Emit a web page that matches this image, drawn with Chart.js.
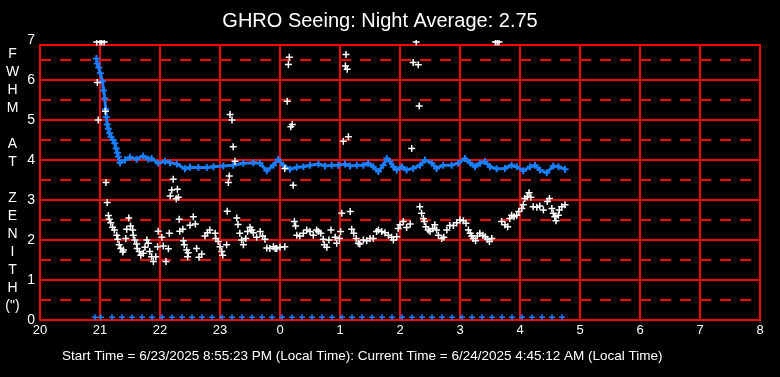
<!DOCTYPE html>
<html>
<head>
<meta charset="utf-8">
<script src="https://cdn.jsdelivr.net/npm/chart.js@4.4.1/dist/chart.umd.min.js"></script>
<style>
  html, body { margin: 0; padding: 0; background: #000; }
  canvas { display: block; }
</style>
</head>
<body>
<canvas id="seeingChart" width="780" height="377"></canvas>
<script>
// hours after midnight are written as 24..32 so the night runs left to right
const blueTimes = [20.94, 20.955, 20.98, 21.005, 21.04, 21.06, 21.08, 21.095, 21.105, 21.12, 21.14, 21.16,
  21.18, 21.22, 21.245, 21.27, 21.29, 21.305, 21.333, 21.417, 21.5, 21.61, 21.72, 21.805, 21.86, 21.97,
  22.083, 22.167, 22.28, 22.417, 22.5, 22.64, 22.78, 22.89, 23.055, 23.22, 23.39, 23.555, 23.667, 23.78,
  23.89, 23.97, 24.055, 24.167, 24.28, 24.39, 24.5, 24.64, 24.75, 24.86, 24.97, 25.083, 25.167, 25.28,
  25.39, 25.47, 25.555, 25.64, 25.72, 25.78, 25.833, 25.89, 25.945, 26.03, 26.11, 26.22, 26.333, 26.417,
  26.53, 26.61, 26.72, 26.86, 26.97, 27.083, 27.167, 27.25, 27.333, 27.417, 27.5, 27.61, 27.75, 27.86,
  27.945, 28.055, 28.167, 28.25, 28.333, 28.445, 28.555, 28.64, 28.75];
const blueFwhm = [6.54, 6.41, 6.31, 6.17, 5.97, 5.74, 5.54, 5.27, 5.07, 4.89, 4.78, 4.67,
  4.58, 4.50, 4.42, 4.29, 4.18, 4.08, 3.93, 4.00, 4.07, 4.02, 4.10, 4.02, 4.04, 3.92,
  3.97, 3.93, 3.90, 3.78, 3.82, 3.81, 3.81, 3.83, 3.85, 3.87, 3.92, 3.93, 3.92, 3.73,
  3.87, 4.01, 3.87, 3.77, 3.82, 3.83, 3.87, 3.90, 3.85, 3.87, 3.87, 3.90, 3.85, 3.87,
  3.87, 3.92, 3.83, 3.71, 3.87, 4.04, 3.96, 3.83, 3.75, 3.83, 3.75, 3.79, 3.87, 4.00,
  3.92, 3.79, 3.87, 3.87, 3.92, 4.04, 3.93, 3.83, 3.92, 3.96, 3.83, 3.78, 3.79, 3.87,
  3.83, 3.73, 3.83, 3.87, 3.75, 3.68, 3.85, 3.83, 3.77];

const whiteTimes = [20.945, 21.0, 21.03, 21.07, 26.27, 27.59, 27.62, 27.65,
  20.955, 20.97, 21.09, 21.1, 21.12, 21.14, 21.155, 21.18, 21.21, 21.24, 21.28, 21.295, 21.32, 21.345,
  21.38, 21.39, 21.43, 21.445, 21.48, 21.51, 21.545, 21.555, 21.58, 21.61, 21.62, 21.655, 21.68, 21.72,
  21.75, 21.78, 21.805, 21.83, 21.86, 21.89, 21.93, 21.96, 21.97, 22.03, 22.055, 22.1, 22.14, 22.155,
  22.17, 22.195, 22.22, 22.27, 22.29, 22.305, 22.32, 22.33, 22.38, 22.39, 22.405, 22.445, 22.46, 22.47,
  22.5, 22.555, 22.59, 22.61, 22.65, 22.695, 22.75, 22.79, 22.83, 22.92, 22.93, 22.97, 23.0, 23.03,
  23.045, 23.11, 23.12, 23.14, 23.155, 23.167, 23.2, 23.22, 23.25, 23.28, 23.3, 23.33, 23.36, 23.39,
  23.43, 23.46, 23.5, 23.53, 23.555, 23.61, 23.67, 23.71, 23.75, 23.78, 23.83, 23.89, 23.92, 23.945,
  24.0, 24.08, 24.08, 24.12, 24.14, 24.155, 24.18, 24.205, 24.22, 24.24, 24.26, 24.28, 24.33, 24.39,
  24.445, 24.5, 24.555, 24.61, 24.64, 24.68, 24.72, 24.74, 24.78, 24.815, 24.85, 24.92, 24.945, 24.99,
  25.01, 25.03, 25.055, 25.09, 25.1, 25.12, 25.14, 25.17, 25.195, 25.23, 25.27, 25.305, 25.33, 25.39,
  25.445, 25.5, 25.555, 25.61, 25.64, 25.695, 25.75, 25.805, 25.86, 25.89, 25.945, 25.97, 26.0, 26.055,
  26.11, 26.17, 26.195, 26.22, 26.305, 26.32, 26.33, 26.36, 26.39, 26.405, 26.43, 26.47, 26.5, 26.545,
  26.58, 26.61, 26.64, 26.695, 26.73, 26.78, 26.83, 26.89, 26.945, 27.0, 27.055, 27.1, 27.14, 27.17,
  27.195, 27.22, 27.26, 27.29, 27.33, 27.38, 27.42, 27.455, 27.49, 27.53, 27.695, 27.75, 27.795, 27.83,
  27.86, 27.9, 27.945, 27.98, 28.03, 28.055, 28.08, 28.12, 28.15, 28.18, 28.22, 28.28, 28.33, 28.39,
  28.455, 28.49, 28.53, 28.555, 28.58, 28.6, 28.64, 28.655, 28.695, 28.75];
const whiteFwhm = [6.95, 6.95, 6.95, 6.95, 6.95, 6.95, 6.95, 6.95,
  5.94, 5.0, 5.22, 3.44, 2.94, 2.61, 2.52, 2.43, 2.32, 2.25, 2.12, 2.02, 1.88, 1.79,
  1.70, 1.75, 2.04, 2.27, 2.55, 2.35, 2.25, 2.12, 2.0, 1.9, 1.79, 1.71, 1.62, 1.67,
  1.82, 2.0, 1.92, 1.71, 1.58, 1.46, 1.58, 1.83, 2.22, 2.07, 1.85, 1.46, 1.78, 2.17,
  3.1, 3.25, 3.52, 3.03, 3.27, 3.07, 2.52, 2.22, 2.27, 1.98, 1.88, 1.75, 1.58, 1.68,
  2.37, 2.58, 2.4, 1.79, 1.57, 1.65, 2.1, 2.18, 2.25, 2.17, 2.04, 1.96, 1.83, 1.71,
  1.62, 1.88, 2.72, 3.44, 3.6, 5.14, 5.0, 4.33, 3.97, 2.55, 2.39, 2.17, 2.0, 1.88,
  2.04, 2.21, 2.32, 2.25, 2.18, 2.07, 2.21, 2.1, 2.02, 1.8, 1.79, 1.83, 1.79, 1.79,
  1.82, 1.83, 3.79, 5.47, 6.39, 6.57, 4.83, 4.89, 3.37, 2.46, 2.35, 2.12, 2.1, 2.17,
  2.25, 2.21, 2.12, 2.25, 2.21, 2.17, 2.02, 1.88, 1.82, 2.0, 2.25, 2.07, 1.92, 2.04,
  2.21, 2.67, 4.47, 6.35, 6.64, 6.27, 4.58, 2.71, 2.27, 2.17, 2.04, 1.92, 1.9, 2.0,
  1.98, 2.04, 2.04, 2.21, 2.25, 2.21, 2.18, 2.12, 2.07, 2.0, 2.08, 2.29, 2.38, 2.46,
  2.31, 2.4, 4.29, 6.44, 6.38, 5.35, 2.83, 2.67, 2.54, 2.46, 2.33, 2.25, 2.21, 2.29,
  2.38, 2.25, 2.12, 2.04, 2.07, 2.25, 2.36, 2.36, 2.43, 2.5, 2.48, 2.42, 2.25, 2.17,
  2.1, 2.04, 1.98, 2.1, 2.17, 2.12, 2.08, 2.02, 1.96, 2.04, 2.46, 2.38, 2.33, 2.54,
  2.62, 2.58, 2.62, 2.71, 2.79, 2.88, 3.04, 3.08, 3.18, 3.07, 2.83, 2.82, 2.85, 2.75,
  2.96, 3.04, 2.79, 2.67, 2.58, 2.48, 2.62, 2.75, 2.83, 2.88];

// ten-minute markers sitting just above the zero line
const zeroTimes = ['20:55', '21:01', '21:12', '21:22', '21:32', '21:42', '21:52', '22:02', '22:12', '22:22',
  '22:32', '22:42', '22:52', '23:02', '23:12', '23:22', '23:32', '23:42', '23:52', '0:02', '0:12', '0:22',
  '0:32', '0:42', '0:52', '1:02', '1:12', '1:22', '1:32', '1:42', '1:52', '2:02', '2:12', '2:22', '2:32',
  '2:42', '2:52', '3:02', '3:12', '3:22', '3:32', '3:42', '3:52', '4:02', '4:12', '4:22', '4:32', '4:42'];
const zeroLevel = 0.07;

const yLetters = ['F', 'W', 'H', 'M', '', 'A', 'T', '', 'Z', 'E', 'N', 'I', 'T', 'H', '(")'];
const titleText = 'GHRO Seeing: Night Average: 2.75';
const footerText = 'Start Time = 6/23/2025 8:55:23 PM (Local Time): Current Time = 6/24/2025 4:45:12 AM (Local Time)';

const FONT = "'Liberation Sans', Arial, sans-serif";
const RED = '#ff0000';
const BLUE = '#1a7fff';

function toPoints(xs, ys) {
    return xs.map((x, i) => ({ x: x, y: ys[i] }));
}

function clockToHours(s) {
    const [h, m] = s.split(':').map(Number);
    return (h < 12 ? h + 24 : h) + m / 60;
}

const redGrid = {
    id: 'redGrid',
    beforeDatasetsDraw(chart) {
        const { ctx, scales: { x, y } } = chart;
        const px = v => Math.round(x.getPixelForValue(v));
        const py = v => Math.round(y.getPixelForValue(v));
        const left = px(20), right = px(32), top = py(6.875), bottom = py(0);
        ctx.save();
        ctx.strokeStyle = RED;
        ctx.lineWidth = 2;
        ctx.setLineDash([11, 9]);
        for (let v = 0.5; v < 7; v += 1) {
            ctx.beginPath();
            ctx.moveTo(left, py(v));
            ctx.lineTo(right, py(v));
            ctx.stroke();
        }
        ctx.setLineDash([]);
        for (let v = 1; v <= 6; v++) {
            ctx.beginPath();
            ctx.moveTo(left, py(v));
            ctx.lineTo(right, py(v));
            ctx.stroke();
        }
        for (let h = 21; h < 32; h++) {
            ctx.beginPath();
            ctx.moveTo(px(h), top);
            ctx.lineTo(px(h), bottom);
            ctx.stroke();
        }
        ctx.strokeRect(left, top, right - left, bottom - top);
        ctx.restore();
    }
};

const sideTexts = {
    id: 'sideTexts',
    afterDraw(chart) {
        const ctx = chart.ctx;
        ctx.save();
        ctx.fillStyle = '#ffffff';
        ctx.font = '14px ' + FONT;
        ctx.textAlign = 'center';
        ctx.textBaseline = 'alphabetic';
        yLetters.forEach((ch, i) => ctx.fillText(ch, 12.5, 58 + i * 18));
        ctx.font = '13.5px ' + FONT;
        ctx.textAlign = 'left';
        ctx.fillText(footerText, 62, 360);
        ctx.restore();
    }
};

const chart = new Chart(document.getElementById('seeingChart'), {
    type: 'scatter',
    data: {
        datasets: [{
            label: 'samples',
            data: toPoints(whiteTimes, whiteFwhm),
            pointStyle: 'cross',
            pointRadius: 3.5,
            pointBorderWidth: 1.5,
            borderColor: '#ffffff',
            backgroundColor: '#ffffff'
        }, {
            label: 'average',
            data: toPoints(blueTimes, blueFwhm),
            showLine: true,
            borderColor: BLUE,
            backgroundColor: BLUE,
            borderWidth: 3,
            pointStyle: 'cross',
            pointRadius: 3.5,
            pointBorderWidth: 2
        }, {
            label: 'marks',
            data: zeroTimes.map(t => ({ x: clockToHours(t), y: zeroLevel })),
            clip: false,
            pointStyle: 'cross',
            pointRadius: 3,
            pointBorderWidth: 1.5,
            borderColor: BLUE,
            backgroundColor: BLUE
        }]
    },
    options: {
        responsive: false,
        animation: false,
        devicePixelRatio: 1,
        layout: { padding: { left: 0, right: 20, top: 0, bottom: 29 } },
        plugins: {
            legend: { display: false },
            tooltip: { enabled: false },
            title: {
                display: true,
                text: titleText,
                color: '#ffffff',
                font: { family: FONT, size: 20, weight: 'normal' },
                padding: { top: 9, bottom: 7 }
            }
        },
        scales: {
            x: {
                type: 'linear',
                min: 20,
                max: 32,
                afterFit: s => { s.height = 28; },
                grid: { display: false, drawTicks: false },
                border: { display: false },
                ticks: {
                    stepSize: 1,
                    autoSkip: false,
                    maxRotation: 0,
                    padding: 3,
                    color: '#ffffff',
                    font: { family: FONT, size: 13 },
                    callback: v => v % 24
                }
            },
            y: {
                min: 0,
                max: 7,
                afterFit: s => { s.width = 40; },
                grid: { display: false, drawTicks: false },
                border: { display: false },
                ticks: {
                    stepSize: 1,
                    padding: 5,
                    color: '#ffffff',
                    font: { family: FONT, size: 14 }
                }
            }
        }
    },
    plugins: [redGrid, sideTexts]
});
</script>
</body>
</html>
